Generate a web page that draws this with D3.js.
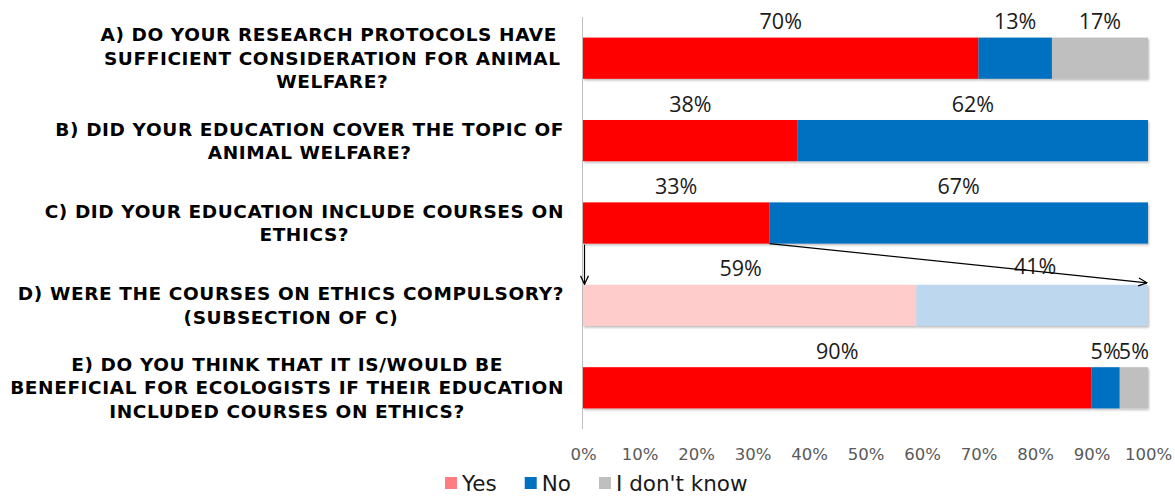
<!DOCTYPE html>
<html>
<head>
<meta charset="utf-8">
<script src="https://cdn.jsdelivr.net/npm/d3@7"></script>
<style>
  html, body { margin: 0; padding: 0; background: #fff; }
  svg { display: block; }
</style>
</head>
<body>
<svg id="chart" width="1175" height="496"></svg>
<script>
// Survey questions (category axis), each one split into answer shares (%)
const categories = [
  ["A) DO YOUR RESEARCH PROTOCOLS HAVE ", "SUFFICIENT CONSIDERATION FOR ANIMAL", "WELFARE?"],
  ["B) DID YOUR EDUCATION COVER THE TOPIC OF", "ANIMAL WELFARE?"],
  ["C) DID YOUR EDUCATION INCLUDE COURSES ON", "ETHICS?"],
  ["D) WERE THE COURSES ON ETHICS COMPULSORY?", "(SUBSECTION OF C)"],
  ["E) DO YOU THINK THAT IT IS/WOULD BE", "BENEFICIAL FOR ECOLOGISTS IF THEIR EDUCATION", "INCLUDED COURSES ON ETHICS?"]
];
const seriesNames = ["Yes", "No", "I don't know"];
const yesValues = [70, 38, 33, 59, 90];
const noValues = [13, 62, 67, 41, 5];
const dontKnowValues = [17, 0, 0, 0, 5];
const xTicks = [0, 10, 20, 30, 40, 50, 60, 70, 80, 90, 100];
// Question D only covers the respondents who answered "Yes" to question C
const subsetRow = 3;
const parentRow = 2;

const seriesValues = [yesValues, noValues, dontKnowValues];
const strongColors = ["#FF0000", "#0070C0", "#BFBFBF"];
const paleColors = ["#FFCCCC", "#BDD7EE", "#E7E6E6"];
const legendColors = ["#FF7C80", "#0070C0", "#BFBFBF"];

const svg = d3.select("#chart");

const x = d3.scaleLinear().domain([0, 100]).range([583, 1148]);
const y = d3.scaleBand()
  .domain(d3.range(categories.length))
  .range([17, 429])
  .paddingInner(0.5)
  .paddingOuter(0.25);

// Soft drop shadow under the bars
const defs = svg.append("defs");
const shadow = defs.append("filter").attr("id", "barShadow")
  .attr("x", "-5%").attr("y", "-20%").attr("width", "110%").attr("height", "150%");
shadow.append("feDropShadow")
  .attr("dx", 1).attr("dy", 1.5).attr("stdDeviation", 1)
  .attr("flood-color", "#000").attr("flood-opacity", 0.28);

defs.append("marker")
  .attr("id", "openArrow")
  .attr("viewBox", "0 0 10 10")
  .attr("refX", 9.5).attr("refY", 5)
  .attr("markerWidth", 10).attr("markerHeight", 10)
  .attr("markerUnits", "userSpaceOnUse")
  .attr("orient", "auto")
  .append("path")
  .attr("d", "M1,1 L9.5,5 L1,9")
  .attr("fill", "none")
  .attr("stroke", "#000")
  .attr("stroke-width", 1.3);

// Stack the series per question
const rows = categories.map((c, i) => {
  let acc = 0;
  return seriesValues.map((vals, s) => {
    const seg = { row: i, series: s, value: vals[i], x0: acc, x1: acc + vals[i] };
    acc += vals[i];
    return seg;
  });
});
const segments = rows.flat().filter(d => d.value > 0);

// Value axis (bottom) labels only
const xAxis = d3.axisBottom(x)
  .tickValues(xTicks)
  .tickFormat(d => d + "%")
  .tickSize(0)
  .tickPadding(0);
const xg = svg.append("g").attr("transform", "translate(0,443)").call(xAxis);
xg.select(".domain").remove();
xg.selectAll("text")
  .attr("font-family", "'DejaVu Sans', Verdana, sans-serif")
  .attr("font-size", 16.5)
  .attr("fill", "#595959")
  .attr("dy", "1em");

// Category axis line
svg.append("line")
  .attr("x1", x(0) - 0.5).attr("x2", x(0) - 0.5)
  .attr("y1", y.range()[0]).attr("y2", y.range()[1])
  .attr("stroke", "#BFBFBF").attr("stroke-width", 1);

// Bars
svg.append("g").attr("filter", "url(#barShadow)")
  .selectAll("rect")
  .data(segments)
  .join("rect")
  .attr("x", d => x(d.x0))
  .attr("width", d => x(d.x1) - x(d.x0))
  .attr("y", d => y(d.row))
  .attr("height", y.bandwidth())
  .attr("fill", d => (d.row === subsetRow ? paleColors : strongColors)[d.series]);

// Value labels above each segment
const labelFont = "'Open Sans', 'Liberation Sans', sans-serif";
const labels = svg.append("g").selectAll("g")
  .data(segments)
  .join("g")
  .attr("transform", d => {
    const shift = d.row === subsetRow ? (d.series === 0 ? -9 : 3) : 0;
    const lift = d.row === subsetRow && d.series === 1 ? 10.5 : 8.5;
    return `translate(${(x(d.x0) + x(d.x1)) / 2 + shift},${y(d.row) - lift})`;
  });
labels.filter(d => d.row === subsetRow && d.series === 1)
  .append("rect").attr("class", "label-bg");
labels.append("text")
  .attr("text-anchor", "middle")
  .attr("font-family", labelFont)
  .attr("font-size", 21.5)
  .attr("fill", "#1a1a1a")
  .text(d => d.value + "%");

// Arrows showing that question D is a breakdown of the "Yes" answers to C
const parentBottom = y(parentRow) + y.bandwidth();
const subsetTop = y(subsetRow);
const arrows = svg.append("g").attr("stroke", "#000").attr("stroke-width", 1.2).attr("fill", "none");
arrows.append("line")
  .attr("x1", x(0) + 1.5).attr("x2", x(0) + 1.5)
  .attr("y1", parentBottom + 1).attr("y2", subsetTop - 0.5)
  .attr("marker-end", "url(#openArrow)");
arrows.append("line")
  .attr("x1", x(yesValues[parentRow])).attr("y1", parentBottom)
  .attr("x2", x(100) - 1).attr("y2", subsetTop - 2)
  .attr("marker-end", "url(#openArrow)");
arrows.raise();
labels.raise();

// White patch behind the "No" label of question D so it interrupts the arrow
labels.selectAll("rect.label-bg").each(function () {
  const t = d3.select(this.parentNode).select("text").node().getBBox();
  d3.select(this)
    .attr("x", t.x - 3).attr("y", t.y + 2)
    .attr("width", t.width + 6).attr("height", t.height - 4)
    .attr("fill", "#fff");
});

// Multi-line category labels: each block right-aligned to the axis, lines centred within it
const catFont = "'DejaVu Sans', Verdana, sans-serif";
const lineH = 23.5;
const blockRight = 564;
categories.forEach((lines, i) => {
  const g = svg.append("g");
  const cy = y(i) + y.bandwidth() / 2;
  const texts = lines.map((ln, k) => g.append("text")
    .attr("font-family", catFont)
    .attr("font-weight", "bold")
    .attr("font-size", 18.5)
    .attr("letter-spacing", 0.6)
    .attr("fill", "#000")
    .attr("text-anchor", "middle")
    .attr("xml:space", "preserve")
    .attr("y", cy + (k - (lines.length - 1) / 2) * lineH)
    .attr("dy", "0.36em")
    .text(ln));
  const maxW = d3.max(texts, t => t.node().getComputedTextLength());
  texts.forEach(t => t.attr("x", blockRight - maxW / 2));
});

// Legend
const legend = svg.append("g").attr("transform", "translate(445,483)");
let lx = 0;
seriesNames.forEach((name, s) => {
  legend.append("rect")
    .attr("x", lx).attr("y", -6)
    .attr("width", 12).attr("height", 12)
    .attr("fill", legendColors[s]);
  const t = legend.append("text")
    .attr("x", lx + 17).attr("y", 0).attr("dy", "0.35em")
    .attr("font-family", catFont)
    .attr("font-size", 21.5)
    .attr("fill", "#1a1a1a")
    .text(name);
  lx += 17 + t.node().getComputedTextLength() + 28;
});
</script>
</body>
</html>
